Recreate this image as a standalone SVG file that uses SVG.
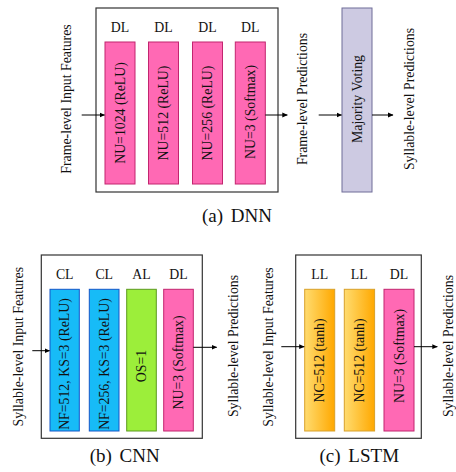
<svg xmlns="http://www.w3.org/2000/svg" width="456" height="472" viewBox="0 0 456 472">
<style>
text{font-family:"Liberation Serif","Times New Roman",serif;fill:#111;}
.t{font-size:13.8px;text-anchor:middle;}
.cap{font-size:19px;text-anchor:middle;word-spacing:3px;}
.frame{fill:#fff;stroke:#333;stroke-width:1.2;}
.dl{fill:#ff69b4;stroke:#c2256f;stroke-width:1;}
.cl{fill:#17bbf7;stroke:#1456c8;stroke-width:1;}
.al{fill:#9cee3a;stroke:#5c9a1e;stroke-width:1;}
.ll{fill:url(#og);stroke:#d9a12a;stroke-width:1;}
.mv{fill:#cdcae2;stroke:#6f6c98;stroke-width:1;}
.c{stroke:#000;stroke-width:1;fill:none;marker-end:url(#ah);}
</style>
<defs>
<linearGradient id="og" x1="0" y1="0" x2="1" y2="0">
<stop offset="0" stop-color="#ffdc70"/>
<stop offset="1" stop-color="#ffa800"/>
</linearGradient>
<marker id="ah" markerWidth="6" markerHeight="6" refX="5" refY="3" orient="auto" markerUnits="userSpaceOnUse">
<path d="M0,0.6 L5.5,3 L0,5.4 Z" fill="#000"/>
</marker>
</defs>

<!-- (a) DNN -->
<g id="dnn">
<rect class="frame" x="96" y="8" width="182" height="184"/>
<g id="dnn-l1"><text class="t" x="120" y="32.3">DL</text><rect class="dl" x="105" y="42" width="30" height="142"/><text class="t" transform="translate(124.5,113) rotate(-90)">NU=1024 (ReLU)</text></g>
<g id="dnn-l2"><text class="t" x="163.5" y="32.3">DL</text><rect class="dl" x="148.5" y="42" width="30" height="142"/><text class="t" transform="translate(168,113) rotate(-90)">NU=512 (ReLU)</text></g>
<g id="dnn-l3"><text class="t" x="207.5" y="32.3">DL</text><rect class="dl" x="192.5" y="42" width="30" height="142"/><text class="t" transform="translate(212,113) rotate(-90)">NU=256 (ReLU)</text></g>
<g id="dnn-l4"><text class="t" x="250.3" y="32.3">DL</text><rect class="dl" x="235.3" y="42" width="30" height="142"/><text class="t" transform="translate(254.8,112) rotate(-90)">NU=3 (Softmax)</text></g>
</g>
<g id="dnn-in"><text class="t" transform="translate(70.5,99) rotate(-90)">Frame-level Input Features</text></g>
<g id="dnn-fp"><text class="t" transform="translate(307,99) rotate(-90)">Frame-level Predictions</text></g>
<g id="dnn-mv"><rect class="mv" x="342" y="8" width="30" height="184"/><text class="t" transform="translate(362,99) rotate(-90)">Majority Voting</text></g>
<g id="dnn-out"><text class="t" transform="translate(414,99) rotate(-90)">Syllable-level Predictions</text></g>
<text class="cap" x="237" y="221.5">(a) DNN</text>

<!-- (b) CNN -->
<g id="cnn">
<rect class="frame" x="41.3" y="255" width="161" height="183.3"/>
<g id="cnn-l1"><text class="t" x="64.7" y="279">CL</text><rect class="cl" x="50" y="289.3" width="29.3" height="141.7"/><text class="t" transform="translate(69.2,364) rotate(-90)">NF=512, KS=3 (ReLU)</text></g>
<g id="cnn-l2"><text class="t" x="104.2" y="279">CL</text><rect class="cl" x="89.3" y="289.3" width="29.7" height="141.7"/><text class="t" transform="translate(108.7,364) rotate(-90)">NF=256, KS=3 (ReLU)</text></g>
<g id="cnn-l3"><text class="t" x="141.5" y="279">AL</text><rect class="al" x="126.7" y="289.3" width="29.6" height="141.7"/><text class="t" transform="translate(146,366) rotate(-90)">OS=1</text></g>
<g id="cnn-l4"><text class="t" x="178.5" y="279">DL</text><rect class="dl" x="163.7" y="289.3" width="29.6" height="141.7"/><text class="t" transform="translate(183,362.5) rotate(-90)">NU=3 (Softmax)</text></g>
</g>
<g id="cnn-in"><text class="t" transform="translate(23,346.7) rotate(-90)">Syllable-level Input Features</text></g>
<g id="cnn-out"><text class="t" transform="translate(237.5,346) rotate(-90)">Syllable-level Predictions</text></g>
<text class="cap" x="124.7" y="461.5">(b) CNN</text>

<!-- (c) LSTM -->
<g id="lstm">
<rect class="frame" x="295.7" y="255" width="125.6" height="183.3"/>
<g id="lstm-l1"><text class="t" x="319.7" y="279">LL</text><rect class="ll" x="304.7" y="289.3" width="30" height="141.7"/><text class="t" transform="translate(324.2,360.5) rotate(-90)">NC=512 (tanh)</text></g>
<g id="lstm-l2"><text class="t" x="359.3" y="279">LL</text><rect class="ll" x="344.3" y="289.3" width="30.3" height="141.7"/><text class="t" transform="translate(363.8,360.5) rotate(-90)">NC=512 (tanh)</text></g>
<g id="lstm-l3"><text class="t" x="399" y="279">DL</text><rect class="dl" x="384" y="289.3" width="30" height="141.7"/><text class="t" transform="translate(403.5,356) rotate(-90)">NU=3 (Softmax)</text></g>
</g>
<g id="lstm-in"><text class="t" transform="translate(272.5,347) rotate(-90)">Syllable-level Input Features</text></g>
<g id="lstm-out"><text class="t" transform="translate(452.5,346) rotate(-90)">Syllable-level Predictions</text></g>
<text class="cap" x="359.3" y="461.5">(c) LSTM</text>

<g id="connectors">
<line class="c" x1="81.7" y1="115" x2="104.5" y2="115"/>
<line class="c" x1="265.3" y1="115" x2="287.3" y2="115"/>
<line class="c" x1="318.7" y1="115" x2="341.5" y2="115"/>
<line class="c" x1="372" y1="115" x2="393" y2="115"/>
<line class="c" x1="32.3" y1="350.7" x2="49.5" y2="350.7"/>
<line class="c" x1="193.3" y1="347.3" x2="216.7" y2="347.3"/>
<line class="c" x1="281.3" y1="346.7" x2="304.2" y2="346.7"/>
<line class="c" x1="414" y1="346.7" x2="437.3" y2="346.7"/>
</g>
</svg>
